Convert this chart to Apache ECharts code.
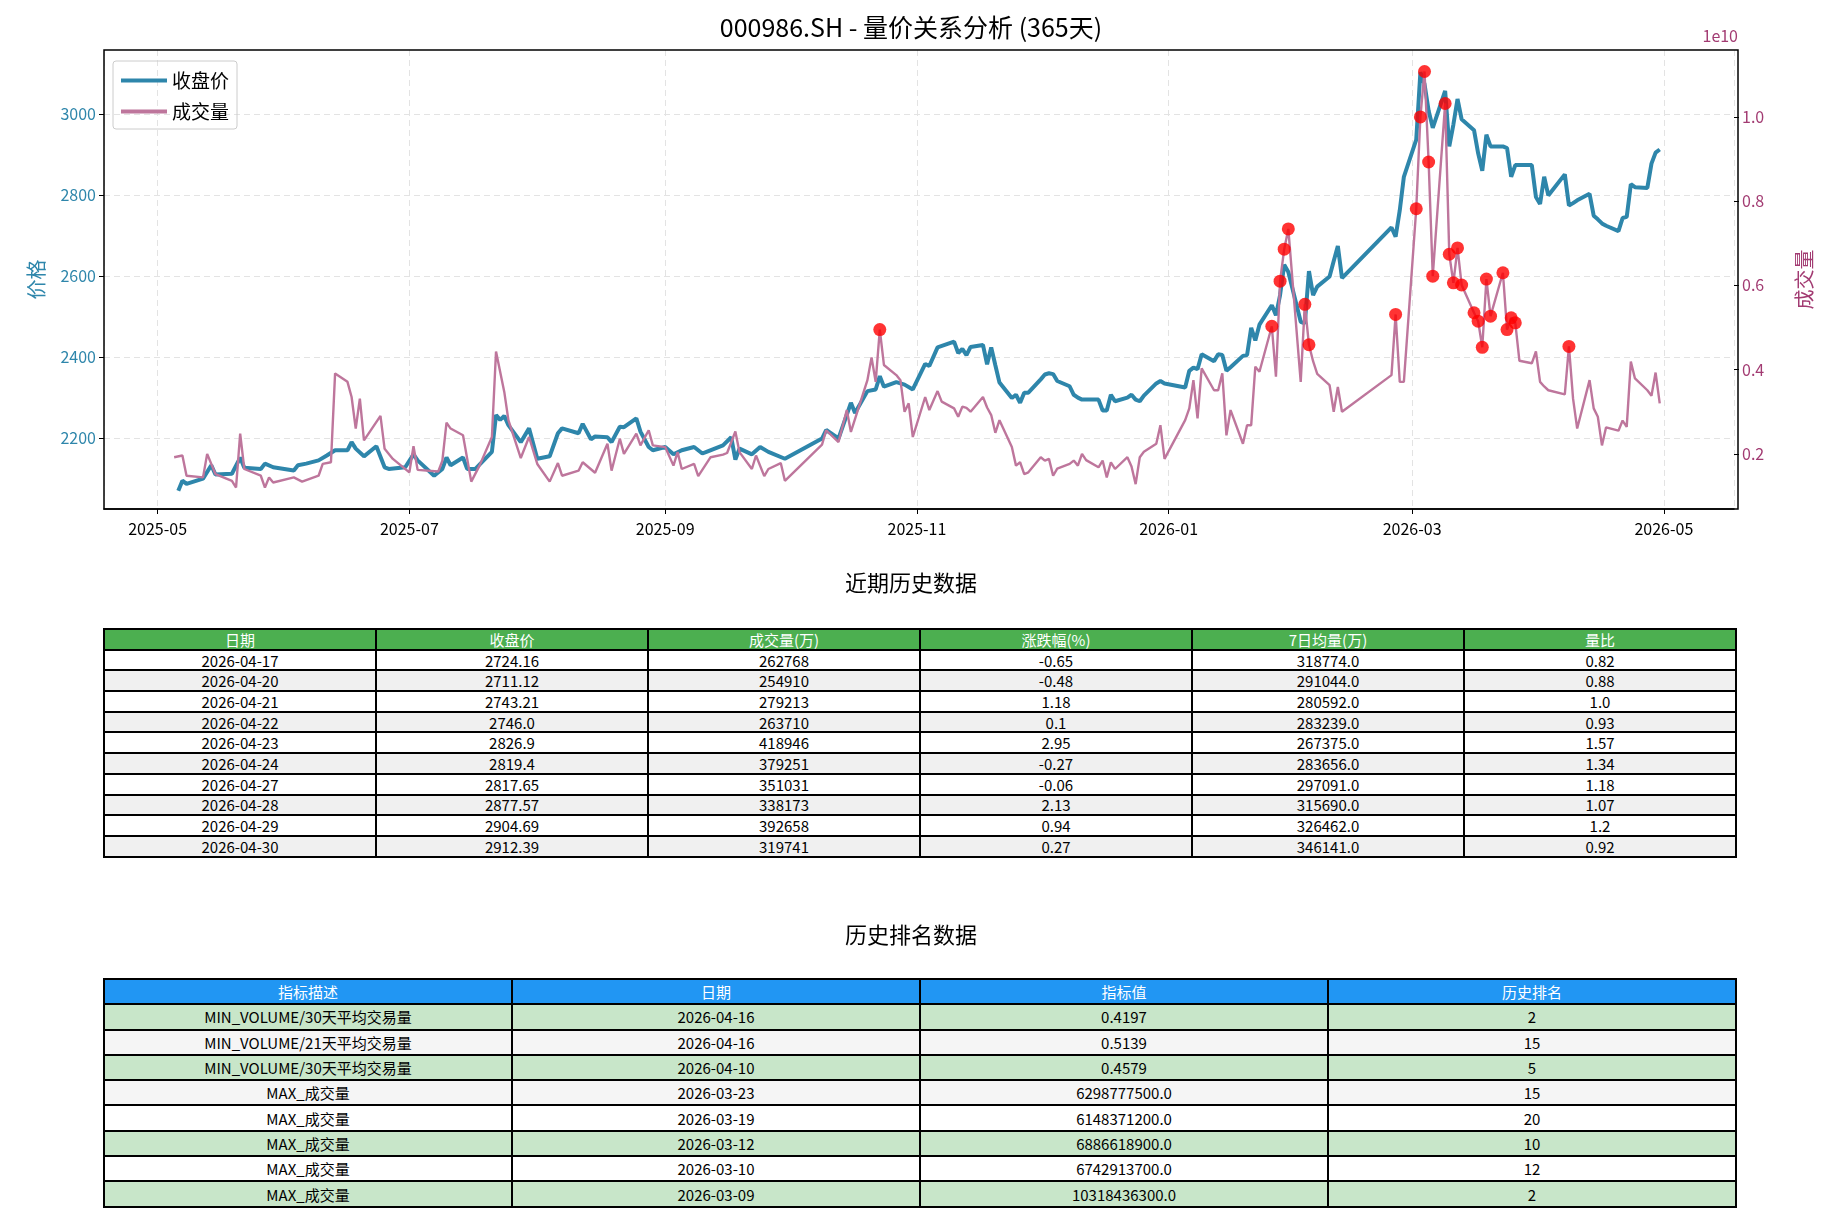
<!DOCTYPE html>
<html>
<head>
<meta charset="utf-8">
<script src="https://cdn.jsdelivr.net/npm/echarts@6/dist/echarts.min.js"></script>
<style>
  body { margin: 0; background: #fff; font-family: "Noto Sans CJK SC", sans-serif; overflow: hidden; }
  #wrap { position: relative; width: 1822px; height: 1220px; }
  #chart { position: absolute; left: 0; top: 0; width: 1822px; height: 1220px; }
  .ttl { position: absolute; left: 0; width: 1822px; text-align: center; font-size: 22px; color: #000; }
  table { position: absolute; border-collapse: collapse; table-layout: fixed; font-size: 15px; }
  td { border: 2px solid #000; text-align: center; padding: 0; line-height: 1; }
  tr.hd td { color: #fff; }
</style>
</head>
<body>
<div id="wrap">
  <div id="chart"></div>
  <div class="ttl" style="top:565px">近期历史数据</div>
  <table id="t1" style="left:103px; top:628px; width:1634px;"></table>
  <div class="ttl" style="top:917px">历史排名数据</div>
  <table id="t2" style="left:103px; top:978px; width:1634px;"></table>
</div>
<script>
// 收盘价
var priceDates = ['2025-05-06','2025-05-07','2025-05-08','2025-05-12','2025-05-14','2025-05-15','2025-05-19','2025-05-21','2025-05-22','2025-05-26','2025-05-27','2025-05-29',
  '2025-06-03','2025-06-04','2025-06-06','2025-06-09','2025-06-11','2025-06-13','2025-06-16','2025-06-17','2025-06-18','2025-06-20','2025-06-23','2025-06-25','2025-06-26','2025-06-30',
  '2025-07-02','2025-07-03','2025-07-07','2025-07-09','2025-07-10','2025-07-11','2025-07-14','2025-07-15','2025-07-17','2025-07-21','2025-07-22','2025-07-23','2025-07-24','2025-07-25','2025-07-28','2025-07-30',
  '2025-08-01','2025-08-04','2025-08-06','2025-08-07','2025-08-11','2025-08-12','2025-08-14','2025-08-15','2025-08-18','2025-08-19','2025-08-21','2025-08-22','2025-08-25','2025-08-26','2025-08-28','2025-08-29',
  '2025-09-01','2025-09-03','2025-09-05','2025-09-08','2025-09-10','2025-09-11','2025-09-15','2025-09-17','2025-09-18','2025-09-19','2025-09-22','2025-09-24','2025-09-26','2025-09-30',
  '2025-10-09','2025-10-10','2025-10-13','2025-10-16','2025-10-17','2025-10-20','2025-10-22','2025-10-23','2025-10-24','2025-10-27','2025-10-29','2025-10-31',
  '2025-11-03','2025-11-04','2025-11-06','2025-11-10','2025-11-11','2025-11-12','2025-11-13','2025-11-14','2025-11-17','2025-11-18','2025-11-19','2025-11-20','2025-11-21','2025-11-24','2025-11-25','2025-11-26','2025-11-27','2025-11-28',
  '2025-12-01','2025-12-02','2025-12-03','2025-12-04','2025-12-05','2025-12-08','2025-12-09','2025-12-10','2025-12-11','2025-12-12','2025-12-15','2025-12-16','2025-12-17','2025-12-18','2025-12-19','2025-12-22','2025-12-23','2025-12-24','2025-12-25','2025-12-26','2025-12-29','2025-12-30','2025-12-31',
  '2026-01-05','2026-01-06','2026-01-07','2026-01-08','2026-01-09','2026-01-12','2026-01-13','2026-01-14','2026-01-15','2026-01-16','2026-01-19','2026-01-20','2026-01-21','2026-01-22','2026-01-23','2026-01-26','2026-01-27','2026-01-28','2026-01-29','2026-01-30',
  '2026-02-02','2026-02-03','2026-02-04','2026-02-05','2026-02-06','2026-02-09','2026-02-10','2026-02-11','2026-02-12','2026-02-24','2026-02-25','2026-02-26','2026-02-27',
  '2026-03-02','2026-03-03','2026-03-04','2026-03-05','2026-03-06','2026-03-09','2026-03-10','2026-03-11','2026-03-12','2026-03-13','2026-03-16','2026-03-17','2026-03-18','2026-03-19','2026-03-20','2026-03-23','2026-03-24','2026-03-25','2026-03-26','2026-03-27','2026-03-30','2026-03-31',
  '2026-04-01','2026-04-02','2026-04-03','2026-04-07','2026-04-08','2026-04-09','2026-04-10','2026-04-13','2026-04-14','2026-04-15','2026-04-16','2026-04-17','2026-04-20','2026-04-21','2026-04-22','2026-04-23','2026-04-24','2026-04-27','2026-04-28','2026-04-29','2026-04-30'];
var closes = [2070,2095,2087,2100,2133,2110,2112,2152,2127,2124,2137,2128,
  2120,2133,2137,2145,2157,2170,2170,2190,2174,2155,2180,2128,2124,2128,
  2160,2145,2107,2124,2152,2133,2152,2124,2124,2166,2257,2245,2255,2232,2190,2224,
  2149,2155,2212,2224,2212,2235,2197,2204,2202,2190,2228,2227,2249,2216,2178,2170,
  2178,2160,2170,2178,2162,2166,2182,2202,2147,2174,2160,2178,2166,2149,
  2199,2220,2199,2287,2262,2316,2320,2353,2327,2338,2332,2320,
  2383,2378,2424,2438,2410,2420,2405,2425,2430,2382,2424,2380,2337,2299,2307,2287,2312,2312,
  2345,2357,2360,2358,2341,2328,2307,2300,2295,2295,2295,2268,2268,2307,2291,2300,2307,2295,2291,2305,2335,2341,2335,
  2325,2366,2374,2370,2407,2390,2407,2405,2366,2375,2403,2405,2472,2441,2480,2528,2503,2553,2628,2610,
  2487,2483,2612,2553,2574,2599,2637,2674,2595,2720,2697,2762,2845,
  2937,3103,3074,3008,2966,3057,2920,2974,3037,2987,2960,2903,2860,2949,2920,2920,2916,2845,2874,2874,2874,2795,
  2778,2845,2799,2851,2774,2780,2787,2803,2749,2740,2730,2724.16,2711.12,2743.21,2746.0,2826.9,2819.4,2817.65,2877.57,2904.69,2912.39];

// 成交量 (1e10)
var volDates = ['2025-05-05','2025-05-07','2025-05-08','2025-05-12','2025-05-13','2025-05-15','2025-05-19','2025-05-20','2025-05-21','2025-05-22','2025-05-26','2025-05-27','2025-05-28','2025-05-29',
  '2025-06-03','2025-06-05','2025-06-09','2025-06-10','2025-06-12','2025-06-13','2025-06-16','2025-06-17','2025-06-18','2025-06-19','2025-06-20','2025-06-24','2025-06-25','2025-06-27',
  '2025-07-01','2025-07-02','2025-07-03','2025-07-08','2025-07-09','2025-07-10','2025-07-11','2025-07-14','2025-07-16','2025-07-18','2025-07-21','2025-07-22','2025-07-24','2025-07-25','2025-07-28','2025-07-30',
  '2025-08-01','2025-08-04','2025-08-06','2025-08-07','2025-08-11','2025-08-12','2025-08-15','2025-08-18','2025-08-19','2025-08-21','2025-08-22','2025-08-25','2025-08-26','2025-08-28','2025-08-29',
  '2025-09-01','2025-09-03','2025-09-04','2025-09-05','2025-09-08','2025-09-09','2025-09-12','2025-09-15','2025-09-16','2025-09-18','2025-09-19','2025-09-22','2025-09-23','2025-09-25','2025-09-26','2025-09-29','2025-09-30',
  '2025-10-09','2025-10-10','2025-10-13','2025-10-15','2025-10-16','2025-10-20','2025-10-21','2025-10-22','2025-10-23','2025-10-24','2025-10-27','2025-10-28','2025-10-29','2025-10-30','2025-10-31',
  '2025-11-03','2025-11-04','2025-11-06','2025-11-07','2025-11-10','2025-11-11','2025-11-12','2025-11-13','2025-11-14','2025-11-17','2025-11-18','2025-11-19','2025-11-20','2025-11-21','2025-11-24','2025-11-25','2025-11-26','2025-11-27','2025-11-28',
  '2025-12-01','2025-12-02','2025-12-03','2025-12-04','2025-12-05','2025-12-08','2025-12-09','2025-12-10','2025-12-11','2025-12-12','2025-12-15','2025-12-16','2025-12-17','2025-12-18','2025-12-19','2025-12-22','2025-12-23','2025-12-24','2025-12-25','2025-12-26','2025-12-29','2025-12-30','2025-12-31',
  '2026-01-05','2026-01-06','2026-01-07','2026-01-08','2026-01-09','2026-01-12','2026-01-13','2026-01-14','2026-01-15','2026-01-16','2026-01-19','2026-01-20','2026-01-21','2026-01-22','2026-01-23','2026-01-26','2026-01-27','2026-01-28','2026-01-29','2026-01-30',
  '2026-02-02','2026-02-03','2026-02-04','2026-02-05','2026-02-06','2026-02-09','2026-02-10','2026-02-11','2026-02-12','2026-02-24','2026-02-25','2026-02-26','2026-02-27',
  '2026-03-02','2026-03-03','2026-03-04','2026-03-05','2026-03-06','2026-03-09','2026-03-10','2026-03-11','2026-03-12','2026-03-13','2026-03-16','2026-03-17','2026-03-18','2026-03-19','2026-03-20','2026-03-23','2026-03-24','2026-03-25','2026-03-26','2026-03-27','2026-03-30','2026-03-31',
  '2026-04-01','2026-04-02','2026-04-03','2026-04-07','2026-04-08','2026-04-09','2026-04-10','2026-04-13','2026-04-14','2026-04-15','2026-04-16','2026-04-17','2026-04-20','2026-04-21','2026-04-22','2026-04-23','2026-04-24','2026-04-27','2026-04-28','2026-04-29','2026-04-30'];
var volumes = [0.192,0.196,0.148,0.144,0.2,0.152,0.136,0.12,0.248,0.164,0.148,0.12,0.144,0.132,
  0.144,0.134,0.148,0.176,0.18,0.391,0.371,0.335,0.26,0.331,0.232,0.29,0.212,0.188,
  0.156,0.218,0.162,0.158,0.184,0.274,0.26,0.244,0.134,0.172,0.24,0.443,0.347,0.28,0.19,0.24,
  0.176,0.134,0.178,0.148,0.16,0.18,0.155,0.224,0.16,0.236,0.2,0.248,0.22,0.256,0.22,
  0.216,0.172,0.204,0.164,0.176,0.147,0.192,0.198,0.202,0.253,0.204,0.164,0.196,0.147,0.164,0.178,0.136,
  0.222,0.256,0.228,0.304,0.252,0.375,0.429,0.371,0.495,0.411,0.387,0.375,0.3,0.32,0.24,
  0.335,0.304,0.349,0.324,0.308,0.288,0.312,0.309,0.3,0.335,0.31,0.292,0.25,0.28,0.216,0.172,0.18,0.152,0.156,
  0.192,0.184,0.188,0.148,0.165,0.176,0.184,0.172,0.2,0.185,0.168,0.184,0.144,0.18,0.164,0.192,0.17,0.128,0.192,0.205,0.224,0.268,0.188,
  0.28,0.308,0.375,0.284,0.403,0.351,0.351,0.391,0.244,0.304,0.224,0.268,0.268,0.407,0.395,0.503,0.383,0.61,0.686,0.734,
  0.371,0.555,0.459,0.42,0.39,0.363,0.3,0.359,0.3,0.387,0.531,0.371,0.371,
  0.782,1.0,1.108,0.893,0.622,1.032,0.674,0.606,0.689,0.601,0.535,0.515,0.453,0.615,0.527,0.63,0.495,0.523,0.511,0.421,0.415,0.443,
  0.371,0.36,0.351,0.341,0.455,0.331,0.26,0.375,0.308,0.288,0.22,0.263,0.255,0.279,0.264,0.419,0.379,0.351,0.338,0.393,0.32];

// 标红的放量日
var markDates = ['2025-10-23','2026-01-26','2026-01-28','2026-01-29','2026-01-30','2026-02-03','2026-02-04','2026-02-25',
  '2026-03-02','2026-03-03','2026-03-04','2026-03-05','2026-03-06','2026-03-09','2026-03-10','2026-03-11','2026-03-12','2026-03-13',
  '2026-03-16','2026-03-17','2026-03-18','2026-03-19','2026-03-20','2026-03-23','2026-03-24','2026-03-25','2026-03-26','2026-04-08'];

var priceTicks = [2200, 2400, 2600, 2800, 3000];
var volTicks = [0.2, 0.4, 0.6, 0.8, 1.0];

// 近期历史数据
var t1Head = ['日期','收盘价','成交量(万)','涨跌幅(%)','7日均量(万)','量比'];
var t1Date = ['2026-04-17','2026-04-20','2026-04-21','2026-04-22','2026-04-23','2026-04-24','2026-04-27','2026-04-28','2026-04-29','2026-04-30'];
var t1Close = ['2724.16','2711.12','2743.21','2746.0','2826.9','2819.4','2817.65','2877.57','2904.69','2912.39'];
var t1Vol = ['262768','254910','279213','263710','418946','379251','351031','338173','392658','319741'];
var t1Chg = ['-0.65','-0.48','1.18','0.1','2.95','-0.27','-0.06','2.13','0.94','0.27'];
var t1Ma7 = ['318774.0','291044.0','280592.0','283239.0','267375.0','283656.0','297091.0','315690.0','326462.0','346141.0'];
var t1Ratio = ['0.82','0.88','1.0','0.93','1.57','1.34','1.18','1.07','1.2','0.92'];

// 历史排名数据
var t2Head = ['指标描述','日期','指标值','历史排名'];
var t2Desc = ['MIN_VOLUME/30天平均交易量','MIN_VOLUME/21天平均交易量','MIN_VOLUME/30天平均交易量','MAX_成交量','MAX_成交量','MAX_成交量','MAX_成交量','MAX_成交量'];
var t2Date = ['2026-04-16','2026-04-16','2026-04-10','2026-03-23','2026-03-19','2026-03-12','2026-03-10','2026-03-09'];
var t2Val = ['0.4197','0.5139','0.4579','6298777500.0','6148371200.0','6886618900.0','6742913700.0','10318436300.0'];
var t2Rank = ['2','15','5','15','20','10','12','2'];
var t2Bg = ['#c8e6c9','#f5f5f5','#c8e6c9','#f5f5f5','#ffffff','#c8e6c9','#ffffff','#c8e6c9'];

var FONT = '"Noto Sans CJK SC", sans-serif';
var C_PRICE = '#2e86ab', C_VOL = '#be769c', C_VOLAX = '#a23b72';

var priceData = priceDates.map(function (d, i) { return [d, closes[i]]; });
var volData = volDates.map(function (d, i) { return [d, volumes[i]]; });
var markData = markDates.map(function (d) { return [d, volumes[volDates.indexOf(d)]]; });

var myChart = echarts.init(document.getElementById('chart'));
myChart.setOption({
    animation: false,
    textStyle: {fontFamily: FONT},
    title: {
        text: '000986.SH - 量价关系分析 (365天)', left: 'center', top: 10,
        textStyle: {fontSize: 25, fontWeight: 'normal', color: '#000', fontFamily: FONT}
    },
    legend: {
        left: 113, top: 61, orient: 'vertical', itemWidth: 46, itemHeight: 4, itemGap: 12,
        padding: [10, 8, 8, 8], borderColor: '#ccc', borderWidth: 1, borderRadius: 3,
        textStyle: {fontSize: 19, color: '#000'},
        data: [{name: '收盘价', icon: 'rect'}, {name: '成交量', icon: 'rect'}]
    },
    grid: {left: 104, right: 84, top: 50, height: 459},
    xAxis: {
        type: 'time', min: '2025-04-18', max: '2026-05-18',
        minInterval: 59 * 864e5, maxInterval: 62 * 864e5,
        axisLine: {lineStyle: {color: '#000', width: 1.5}},
        axisTick: {lineStyle: {color: '#000'}},
        axisLabel: {formatter: '{yyyy}-{MM}', color: '#000', fontSize: 16, margin: 12, showMinLabel: false, showMaxLabel: false},
        splitLine: {show: true, lineStyle: {type: [6, 4], color: '#e3e3e3'}}
    },
    yAxis: [{
        type: 'value', min: 2025, max: 3158, position: 'left',
        name: '价格', nameLocation: 'middle', nameGap: 58, nameRotate: 90,
        nameTextStyle: {color: C_PRICE, fontSize: 20},
        axisLine: {show: false},
        axisTick: {show: true, customValues: priceTicks, lineStyle: {color: '#000'}},
        axisLabel: {customValues: priceTicks, color: C_PRICE, fontSize: 16, formatter: function (v) { return String(v); }},
        splitLine: {show: false}
    }, {
        type: 'value', min: 0.069, max: 1.159, position: 'right',
        name: '成交量', nameLocation: 'middle', nameGap: 60, nameRotate: 90,
        nameTextStyle: {color: C_VOLAX, fontSize: 20},
        axisLine: {show: false},
        axisTick: {show: true, customValues: volTicks, lineStyle: {color: '#000'}},
        axisLabel: {customValues: volTicks, color: C_VOLAX, fontSize: 16, formatter: function (v) { return v.toFixed(1); }},
        splitLine: {show: false}
    }],
    graphic: [{
        type: 'text', right: 84, top: 28,
        style: {text: '1e10', fill: C_VOLAX, fontSize: 16, fontFamily: FONT}
    }, {
        type: 'rect', shape: {x: 104, y: 50, width: 1634, height: 459},
        style: {fill: 'none', stroke: '#000', lineWidth: 1.5}, z: 10, silent: true
    }],
    series: [{
        name: '收盘价', type: 'line', yAxisIndex: 0, data: priceData, showSymbol: false,
        lineStyle: {color: C_PRICE, width: 4}, itemStyle: {color: C_PRICE}, z: 3,
        markLine: {
            silent: true, symbol: 'none', label: {show: false},
            lineStyle: {type: [6, 4], color: '#e3e3e3', width: 1},
            data: priceTicks.map(function (v) { return {yAxis: v}; }), z: 0
        }
    }, {
        name: '成交量', type: 'line', yAxisIndex: 1, data: volData, showSymbol: false,
        lineStyle: {color: C_VOL, width: 2.4}, itemStyle: {color: C_VOL}, z: 4
    }, {
        name: '放量', type: 'scatter', yAxisIndex: 1, data: markData, symbolSize: 13,
        itemStyle: {color: '#ff0000'}, z: 5
    }]
});

function buildTable(id, head, cols, headBg, rowBg) {
    var h = id === 't1' ? 20.7 : 25.3;
    var html = '<tr class="hd" style="background:' + headBg + ';height:' + h + 'px">';
    head.forEach(function (t) { html += '<td>' + t + '</td>'; });
    html += '</tr>';
    for (var r = 0; r < cols[0].length; r++) {
        html += '<tr style="background:' + rowBg(r) + ';height:' + h + 'px">';
        cols.forEach(function (c) { html += '<td>' + c[r] + '</td>'; });
        html += '</tr>';
    }
    document.getElementById(id).innerHTML = html;
}
buildTable('t1', t1Head, [t1Date, t1Close, t1Vol, t1Chg, t1Ma7, t1Ratio], '#4caf50',
    function (r) { return r % 2 ? '#f0f0f0' : '#ffffff'; });
buildTable('t2', t2Head, [t2Desc, t2Date, t2Val, t2Rank], '#2196f3',
    function (r) { return t2Bg[r]; });
</script>
</body>
</html>
